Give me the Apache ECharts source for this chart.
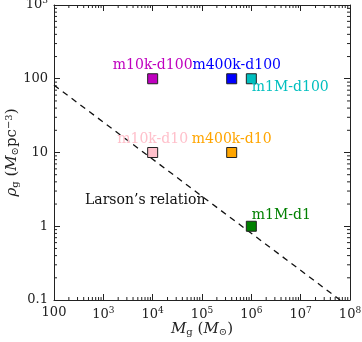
<!DOCTYPE html>
<html>
<head>
<meta charset="utf-8">
<script src="https://cdn.jsdelivr.net/npm/echarts@6/dist/echarts.min.js"></script>
<style>
  html, body { margin: 0; padding: 0; background: #fff; }
  #chart { width: 362px; height: 342px; }
</style>
</head>
<body>
<div id="chart"></div>
<script>
// simulation runs
var runNames = ['m10k-d100', 'm400k-d100', 'm1M-d100', 'm10k-d10', 'm400k-d10', 'm1M-d1'];
var gasMass = [1e4, 4e5, 1e6, 1e4, 4e5, 1e6];
var gasDensity = [100, 100, 100, 10, 10, 1];
var runColors = ['#bf00bf', '#0000ff', '#00bfbf', '#ffc0cb', '#ffa500', '#008000'];

// Larson's relation (dashed line)
var larsonMass = [100, 6.3e7];
var larsonDensity = [82, 0.1];

var xRange = [100, 1e8];
var yRange = [0.1, 1000];

var serif = 'DejaVu Serif';

function powLabel(v) {
    var e = Math.round(Math.log10(v));
    if (e >= 3) return '{b|10}{s|' + e + '}';
    return '{b|' + (v < 1 ? v.toFixed(1) : String(Math.round(v))) + '}';
}

var tickRich = {
    b: { fontFamily: serif, fontSize: 13, color: '#222' },
    s: { fontFamily: serif, fontSize: 9, color: '#222', verticalAlign: 'bottom', padding: [0, 0, 8, 0] }
};

// log minor tick spots (2..9 x 10^k) inside a range
function minorSpots(r) {
    var out = [];
    for (var e = Math.floor(Math.log10(r[0])); e < Math.log10(r[1]); e++) {
        for (var k = 2; k <= 9; k++) {
            var v = k * Math.pow(10, e);
            if (v > r[0] && v < r[1]) out.push(v);
        }
    }
    return out;
}

// where each run's label sits relative to its square
var labelSpots = {
    'm10k-d100': { position: 'top', distance: 1 },
    'm400k-d100': { position: 'top', distance: 1, offset: [5, 0] },
    'm1M-d100': { position: [6, 14], align: 'left', verticalAlign: 'middle' },
    'm10k-d10': { position: 'top', distance: 1 },
    'm400k-d10': { position: 'top', distance: 1 },
    'm1M-d1': { position: [6, -5], align: 'left', verticalAlign: 'middle' }
};

var points = runNames.map(function (n, i) {
    var lab = Object.assign({
        show: true,
        formatter: n,
        color: runColors[i],
        fontFamily: serif,
        fontSize: 14
    }, labelSpots[n]);
    return {
        name: n,
        value: [gasMass[i], gasDensity[i]],
        itemStyle: { color: runColors[i], borderColor: '#222', borderWidth: 1, opacity: 1 },
        label: lab
    };
});

var larson = larsonMass.map(function (m, i) { return [m, larsonDensity[i]]; });

function logAxis(base, show) {
    return Object.assign({
        type: 'log',
        logBase: 10,
        axisLine: { show: true, onZero: false, lineStyle: { color: '#222', width: 1 } },
        axisTick: { show: true, inside: true, length: 6, lineStyle: { color: '#222' } },
        splitLine: { show: false },
        axisLabel: { show: show }
    }, base);
}

// minor ticks drawn on all four sides
var xMinor = minorSpots(xRange).map(function (v) { return [v, 'x']; });
var yMinor = minorSpots(yRange).map(function (v) { return [v, 'y']; });

function renderMinor(params, api) {
    var v = api.value(0);
    var isX = api.value(1) === 'x';
    var cs = params.coordSys;
    var L = 3;
    var lines = [];
    if (isX) {
        var px = api.coord([v, yRange[0]])[0];
        lines.push([px, cs.y + cs.height, px, cs.y + cs.height - L]);
        lines.push([px, cs.y, px, cs.y + L]);
    } else {
        var py = api.coord([xRange[0], v])[1];
        lines.push([cs.x, py, cs.x + L, py]);
        lines.push([cs.x + cs.width, py, cs.x + cs.width - L, py]);
    }
    return {
        type: 'group',
        children: lines.map(function (l) {
            return {
                type: 'line',
                shape: { x1: l[0], y1: l[1], x2: l[2], y2: l[3] },
                style: { stroke: '#222', lineWidth: 1 }
            };
        })
    };
}

var nameRich = {
    i: { fontFamily: serif, fontStyle: 'italic', fontSize: 15, color: '#222' },
    sub: { fontFamily: serif, fontSize: 10, color: '#222', verticalAlign: 'top', padding: [6, 0, 0, 0] },
    sup: { fontFamily: serif, fontSize: 10, color: '#222', verticalAlign: 'bottom', padding: [0, 0, 6, 0] }
};

var chart = echarts.init(document.getElementById('chart'));
chart.setOption({
    animation: false,
    backgroundColor: '#fff',
    grid: { left: 54, right: 12, top: 5, bottom: 42, containLabel: false, outerBoundsMode: 'none' },
    xAxis: [
        logAxis({
            min: xRange[0], max: xRange[1], position: 'bottom',
            name: '{i|M}{sub|g} ({i|M}{sub|⊙})',
            nameLocation: 'middle', nameGap: 21, nameMoveOverlap: false,
            nameTextStyle: { fontFamily: serif, fontSize: 15, color: '#222', rich: nameRich },
            axisLabel: { show: true, formatter: powLabel, rich: tickRich, margin: 6 }
        }, true),
        logAxis({ min: xRange[0], max: xRange[1], position: 'top' }, false)
    ],
    yAxis: [
        logAxis({
            min: yRange[0], max: yRange[1], position: 'left',
            name: '{i|ρ}{sub|g} ({i|M}{sub|⊙}pc{sup|−3})',
            nameLocation: 'middle', nameGap: 34, nameRotate: 90, nameMoveOverlap: false,
            nameTextStyle: { fontFamily: serif, fontSize: 15, color: '#222', rich: nameRich },
            axisLabel: { show: true, formatter: powLabel, rich: tickRich, margin: 6 }
        }, true),
        logAxis({ min: yRange[0], max: yRange[1], position: 'right' }, false)
    ],
    series: [
        {
            type: 'custom',
            xAxisIndex: 0,
            yAxisIndex: 0,
            data: xMinor.concat(yMinor),
            dimensions: ['v', 'axis'],
            encode: { x: -1, y: -1 },
            renderItem: renderMinor,
            silent: true,
            clip: false,
            z: 0
        },
        {
            type: 'line',
            xAxisIndex: 0,
            yAxisIndex: 0,
            data: larson,
            symbol: 'none',
            silent: true,
            lineStyle: { color: '#111', width: 1.3, type: [6, 5] },
            z: 1
        },
        {
            type: 'scatter',
            xAxisIndex: 0,
            yAxisIndex: 0,
            symbol: 'rect',
            symbolSize: 10,
            data: points,
            z: 3
        }
    ],
    graphic: [
        {
            type: 'text',
            left: 85,
            top: 193,
            style: { text: 'Larson’s relation', font: '14px "DejaVu Serif"', fill: '#111' }
        }
    ]
});
</script>
</body>
</html>
